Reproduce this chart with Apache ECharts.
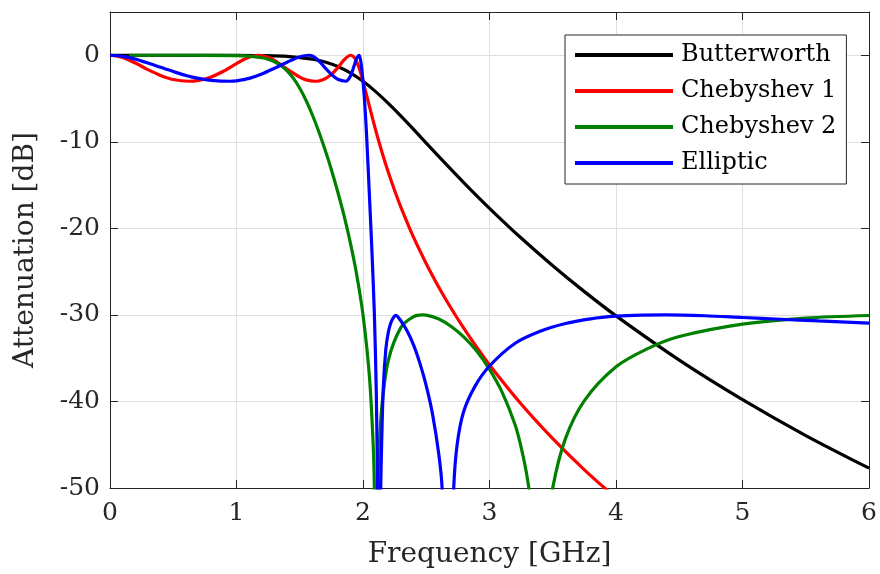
<!DOCTYPE html>
<html>
<head>
<meta charset="utf-8">
<script src="https://cdn.jsdelivr.net/npm/echarts@6/dist/echarts.min.js"></script>
<style>
  html, body { margin: 0; padding: 0; background: #fff; }
  #chart { width: 880px; height: 574px; }
</style>
</head>
<body>
<div id="chart"></div>
<script>
// axis ticks
var xTicks = [0, 1, 2, 3, 4, 5, 6];
var yTicks = [-50, -40, -30, -20, -10, 0];

// Butterworth
var butterFreq = [0, 0.5, 1.0, 1.2, 1.4, 1.6, 1.7, 1.8, 1.9, 2.0, 2.1, 2.2, 2.3, 2.4, 2.6, 2.8, 3.0, 3.25, 3.5, 3.75, 4.0, 4.5, 5.0, 5.5, 6.0];
var butterDb = [0, 0, -0.004, -0.03, -0.12, -0.44, -0.78, -1.3, -2.04, -3.01, -4.2, -5.56, -7.03, -8.57, -11.71, -14.76, -17.68, -21.12, -24.32, -27.31, -30.11, -35.22, -39.79, -43.94, -47.71];

// Chebyshev 1
var cheb1Freq = [0, 0.1, 0.2, 0.3, 0.4, 0.5, 0.62, 0.7, 0.8, 0.9, 1.0, 1.05, 1.1, 1.15, 1.18, 1.25, 1.3, 1.4, 1.5, 1.55, 1.62, 1.65, 1.7, 1.75, 1.8, 1.85, 1.9, 1.925, 1.95, 1.975, 2.0, 2.05, 2.1, 2.15, 2.2, 2.25, 2.3, 2.4, 2.5, 2.6, 2.7, 2.8, 2.9, 3.0, 3.25, 3.5, 3.75, 4.0];
var cheb1Db = [0, -0.26, -0.9, -1.66, -2.33, -2.8, -3.0, -2.9, -2.5, -1.82, -0.96, -0.55, -0.22, -0.03, 0, -0.23, -0.6, -1.61, -2.53, -2.84, -3.0, -2.97, -2.71, -2.21, -1.46, -0.54, 0, -0.16, -0.75, -1.73, -3.01, -5.85, -8.64, -11.2, -13.52, -15.63, -17.57, -21.05, -24.08, -26.83, -29.32, -31.62, -33.75, -35.78, -40.3, -44.3, -47.9, -51.15];

// Chebyshev 2
var cheb2Freq = [0.15, 0.5, 1.0, 1.1, 1.2, 1.25, 1.3, 1.35, 1.4, 1.45, 1.5, 1.55, 1.6, 1.65, 1.7, 1.75, 1.8, 1.85, 1.9, 1.95, 2.0, 2.05, 2.08, 2.09, 2.103, 2.12, 2.13, 2.15, 2.2, 2.3, 2.4, 2.47, 2.5, 2.6, 2.7, 2.8, 2.9, 3.0, 3.1, 3.2, 3.25, 3.3, 3.35, 3.4, 3.45, 3.5, 3.6, 3.75, 4.0, 4.25, 4.5, 5.0, 5.5, 6.0];
var cheb2Db = [0, 0, -0.03, -0.1, -0.29, -0.47, -0.75, -1.18, -1.8, -2.67, -3.81, -5.22, -6.9, -8.81, -10.93, -13.23, -15.77, -18.54, -21.68, -25.35, -30, -37.0, -44.9, -50.4, -70, -48.3, -44.8, -40.4, -35.25, -31.44, -30.2, -30, -30.02, -30.48, -31.37, -32.6, -34.2, -36.3, -38.95, -42.6, -45.3, -48.97, -54.7, -70, -55.9, -49.96, -44.3, -39.9, -36.0, -33.9, -32.5, -31.07, -30.37, -30.07];

// Elliptic
var ellipFreq = [0, 0.1, 0.2, 0.3, 0.4, 0.5, 0.6, 0.7, 0.8, 0.95, 1.0, 1.1, 1.2, 1.3, 1.4, 1.5, 1.575, 1.6, 1.65, 1.7, 1.75, 1.8, 1.865, 1.9, 1.93, 1.95, 1.97, 1.985, 2.0, 2.01, 2.026, 2.05, 2.07, 2.09, 2.105, 2.115, 2.127, 2.135, 2.14, 2.147, 2.16, 2.18, 2.2, 2.22, 2.24, 2.258, 2.3, 2.35, 2.4, 2.45, 2.5, 2.55, 2.6, 2.625, 2.668, 2.717, 2.743, 2.795, 2.887, 3.0, 3.2, 3.4, 3.6, 3.8, 4.0, 4.2, 4.4, 4.7, 5.0, 5.3, 5.6, 6.0];
var ellipDb = [0, -0.12, -0.44, -0.89, -1.39, -1.88, -2.33, -2.67, -2.89, -3.0, -2.95, -2.67, -2.16, -1.5, -0.8, -0.17, 0, -0.08, -0.63, -1.45, -2.2, -2.77, -3.0, -2.43, -1.2, -0.36, 0, -0.97, -3.0, -4.8, -8.6, -16, -22.5, -30, -39, -50, -70, -58, -50, -45, -38.5, -34.0, -32.0, -30.9, -30.3, -30.05, -30.7, -31.9, -33.5, -35.6, -38.2, -41.5, -46.2, -50, -70, -50, -45.1, -41.2, -38.2, -35.9, -33.3, -31.9, -31.0, -30.45, -30.15, -30.02, -30.0, -30.1, -30.3, -30.5, -30.7, -30.95];

var seriesNames = ["Butterworth", "Chebyshev 1", "Chebyshev 2", "Elliptic"];
var seriesColors = ["#000000", "#ff0000", "#008000", "#0000ff"];

function pairs(xs, ys) {
  return xs.map(function (x, i) { return [x, ys[i]]; });
}

var font = "DejaVu Serif";
var axisColor = "#262626";
var gridColor = "#dfdfdf";

var lines = [
  pairs(butterFreq, butterDb),
  pairs(cheb1Freq, cheb1Db),
  pairs(cheb2Freq, cheb2Db),
  pairs(ellipFreq, ellipDb)
];

var option = {
  animation: false,
  backgroundColor: "#ffffff",
  grid: { left: 110, right: 8, top: 12, bottom: 84, containLabel: false },
  legend: {
    orient: "vertical",
    left: 565,
    top: 35,
    padding: [6, 10, 7, 10],
    itemGap: 8,
    itemWidth: 98,
    itemHeight: 4,
    icon: "rect",
    backgroundColor: "#ffffff",
    borderColor: axisColor,
    borderWidth: 1,
    borderRadius: 0,
    data: seriesNames,
    textStyle: { fontFamily: font, fontSize: 24, color: "#000", lineHeight: 28, padding: [0, 0, 0, 3] }
  },
  xAxis: [
    {
      type: "value",
      min: xTicks[0],
      max: xTicks[xTicks.length - 1],
      interval: 1,
      position: "bottom",
      name: "Frequency [GHz]",
      nameLocation: "middle",
      nameGap: 53,
      nameTextStyle: { fontFamily: font, fontSize: 28, color: axisColor },
      axisLine: { onZero: false, lineStyle: { color: axisColor, width: 1 } },
      axisTick: { inside: true, length: 8, lineStyle: { color: axisColor } },
      axisLabel: { fontFamily: font, fontSize: 25, color: axisColor, margin: 13 },
      splitLine: { show: true, lineStyle: { color: gridColor, width: 1 } }
    },
    {
      type: "value",
      min: xTicks[0],
      max: xTicks[xTicks.length - 1],
      interval: 1,
      position: "top",
      axisLine: { onZero: false, lineStyle: { color: axisColor, width: 1 } },
      axisTick: { inside: true, length: 8, lineStyle: { color: axisColor } },
      axisLabel: { show: false },
      splitLine: { show: false }
    }
  ],
  yAxis: [
    {
      type: "value",
      min: yTicks[0],
      max: 5,
      interval: 10,
      position: "left",
      name: "Attenuation [dB]",
      nameLocation: "middle",
      nameGap: 70,
      nameTextStyle: { fontFamily: font, fontSize: 28, color: axisColor },
      axisLine: { show: true, onZero: false, lineStyle: { color: axisColor, width: 1 } },
      axisTick: { show: true, inside: true, length: 8, lineStyle: { color: axisColor } },
      axisLabel: { fontFamily: font, fontSize: 25, color: axisColor, margin: 10, showMaxLabel: false },
      splitLine: { show: true, lineStyle: { color: gridColor, width: 1 } }
    },
    {
      type: "value",
      min: yTicks[0],
      max: 5,
      interval: 10,
      position: "right",
      axisLine: { show: true, onZero: false, lineStyle: { color: axisColor, width: 1 } },
      axisTick: { show: true, inside: true, length: 8, lineStyle: { color: axisColor } },
      axisLabel: { show: false },
      splitLine: { show: false }
    }
  ],
  series: seriesNames.map(function (name, i) {
    return {
      name: name,
      type: "line",
      data: lines[i],
      xAxisIndex: 0,
      yAxisIndex: 0,
      showSymbol: false,
      symbol: "none",
      smooth: 0.3,
      clip: true,
      color: seriesColors[i],
      lineStyle: { color: seriesColors[i], width: 3.2 }
    };
  })
};

var myChart = echarts.init(document.getElementById("chart"));
myChart.setOption(option);
</script>
</body>
</html>
